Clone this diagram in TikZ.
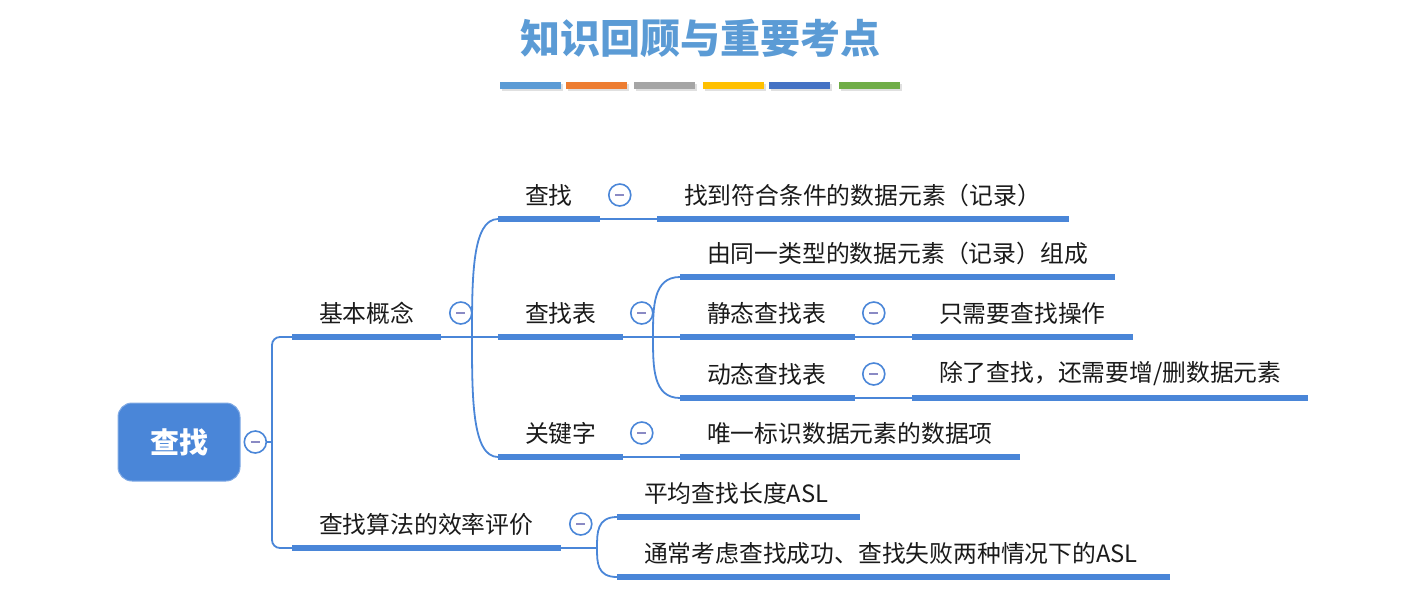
\documentclass[tikz,border=0pt]{standalone}
\usepackage{fontspec}
\setmainfont{Noto Sans CJK SC}
\usepackage{tikz}
\usetikzlibrary{positioning,calc}
\definecolor{mmblue}{HTML}{4A86D8}
\definecolor{mmtitle}{HTML}{5B9BD5}
\definecolor{mmminus}{HTML}{8A8AC4}
\definecolor{mmtext}{HTML}{1A1A1A}
\definecolor{barblue}{HTML}{5B9BD5}
\definecolor{barorange}{HTML}{ED7D31}
\definecolor{bargray}{HTML}{A5A5A5}
\definecolor{baryellow}{HTML}{FFC000}
\definecolor{bardark}{HTML}{4472C4}
\definecolor{bargreen}{HTML}{70AD47}

\begin{document}
\begin{tikzpicture}[
  x=1pt,
  y=-1pt,
  font=\fontsize{23.8}{28}\selectfont,
  topic/.style={anchor=south west, minimum width=#1, text width={#1-54pt}, minimum height=48pt, inner xsep=27pt, inner ysep=0pt, outer sep=0pt, align=left, text=mmtext},
  uline/.style={draw=mmblue, line width=6pt},
  conn/.style={draw=mmblue, line width=1.8pt},
  fold/.style={circle, draw=mmblue, line width=1.6pt, fill=white, minimum size=22pt, inner sep=0pt, path picture={\draw[mmminus, line width=1.6pt] ($(path picture bounding box.center)+(-4.5,0)$) -- ++(9,0);}},
  branch/.style={to path={.. controls ($(\tikztostart)!0.5!(\tikztostart|-\tikztotarget)$) and (\tikztostart|-\tikztotarget) .. (\tikztotarget)}},
  rootbox/.style={rectangle, rounded corners=14pt, fill=mmblue, draw=mmblue!70!white, line width=1pt, minimum width=122pt, minimum height=78pt, text=white, font=\fontsize{29}{34}\selectfont\bfseries}
]
  \useasboundingbox (0,0) rectangle (1417,598);

  % title and colour bars
  \node[font=\fontsize{40}{48}\selectfont\bfseries, text=mmtitle] (title) at (700,38) {知识回顾与重要考点};
  \foreach \c/\x in {barblue/500, barorange/566, bargray/634, baryellow/703, bardark/769, bargreen/839} {
    \fill[black!12] (\x+1.5,83.5) rectangle ++(61,7);
    \fill[\c] (\x,82) rectangle ++(61,7);
  }

  % root
  \node[rootbox] (root) at (179,442) {查找};
  \node[fold, right=3pt of root] (root-f) {};
  \coordinate (trunk) at (272,442);

  % topics
  \node[topic=149] (jbgn) at (292,337) {基本概念};
  \node[topic=269] (xlpj) at (292,548) {查找算法的效率评价};
  \node[topic=102] (cz) at (498,219) {查找};
  \node[topic=125] (czb) at (498,337) {查找表};
  \node[topic=125] (gjz) at (498,457) {关键字};
  \node[topic=412] (czdef) at (657,219) {找到符合条件的数据元素（记录）};
  \node[topic=435] (zc) at (680,277) {由同一类型的数据元素（记录）组成};
  \node[topic=175] (jt) at (680,337) {静态查找表};
  \node[topic=175] (dt) at (680,398) {动态查找表};
  \node[topic=221] (jtdef) at (912,337) {只需要查找操作};
  \node[topic=396] (dtdef) at (912,398) {除了查找，还需要增/删数据元素};
  \node[topic=340] (gjzdef) at (680,457) {唯一标识数据元素的数据项};
  \node[topic=243] (asl) at (617,517) {平均查找长度ASL};
  \node[topic=553] (tc) at (617,577) {通常考虑查找成功、查找失败两种情况下的ASL};

  % fold buttons
  \node[fold, right=8pt of jbgn] (jbgn-f) {};
  \node[fold, right=8pt of xlpj] (xlpj-f) {};
  \node[fold, right=8pt of cz] (cz-f) {};
  \node[fold, right=7pt of czb] (czb-f) {};
  \node[fold, right=7pt of gjz] (gjz-f) {};
  \node[fold, right=7pt of jt] (jt-f) {};
  \node[fold, right=7pt of dt] (dt-f) {};

  % connectors
  \draw[conn] (root-f) -- (trunk);
  \draw[conn, rounded corners=8pt] (trunk) |- (jbgn.south west);
  \draw[conn, rounded corners=8pt] (trunk) |- (xlpj.south west);
  \coordinate (jbgn-b) at (472,337);
  \draw[conn] (jbgn.south east) -- (jbgn-b);
  \foreach \n in {cz,czb,gjz} \draw[conn] (jbgn-b) to[branch] (\n.south west);
  \draw[conn] (cz.south east) -- (czdef.south west);
  \coordinate (czb-b) at (653,337);
  \draw[conn] (czb.south east) -- (czb-b);
  \foreach \n in {zc,jt,dt} \draw[conn] (czb-b) to[branch] (\n.south west);
  \draw[conn] (jt.south east) -- (jtdef.south west);
  \draw[conn] (dt.south east) -- (dtdef.south west);
  \draw[conn] (gjz.south east) -- (gjzdef.south west);
  \coordinate (xlpj-b) at (597,548);
  \draw[conn] (xlpj.south east) -- (xlpj-b);
  \foreach \n in {asl,tc} \draw[conn] (xlpj-b) to[branch] (\n.south west);

  % underlines
  \foreach \n in {jbgn,xlpj,cz,czb,gjz,czdef,zc,jt,dt,jtdef,dtdef,gjzdef,asl,tc}
    \draw[uline] (\n.south west) -- (\n.south east);
\end{tikzpicture}
\end{document}
